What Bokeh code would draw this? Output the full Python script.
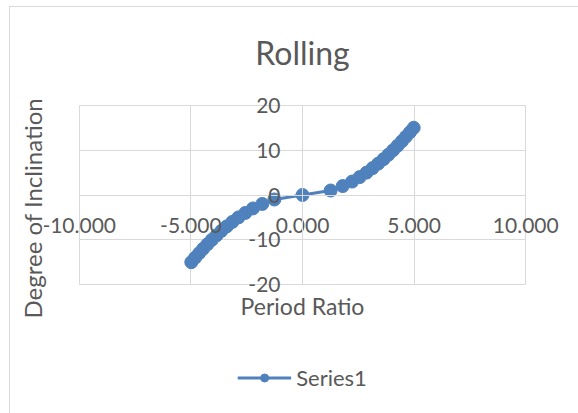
from bokeh.plotting import figure
from bokeh.layouts import column
from bokeh.models import NumeralTickFormatter, Title, Legend, LegendItem
from bokeh.embed import file_html
from bokeh.resources import INLINE

# Period ratio against degree of inclination (rolling)
period_ratio = [-4.98, -4.81, -4.63, -4.45, -4.26, -4.06, -3.85, -3.63, -3.39, -3.14,
                -2.87, -2.56, -2.22, -1.80, -1.26, 0.0, 1.26, 1.80, 2.22, 2.56,
                2.87, 3.14, 3.39, 3.63, 3.85, 4.06, 4.26, 4.45, 4.63, 4.81, 4.98]
inclination = [-15, -14, -13, -12, -11, -10, -9, -8, -7, -6, -5, -4, -3, -2, -1, 0,
               1, 2, 3, 4, 5, 6, 7, 8, 9, 10, 11, 12, 13, 14, 15]
x_ticks = [-10, -5, 0, 5, 10]
y_ticks = [-20, -10, 0, 10, 20]
x_bounds = (-10, 10)
y_bounds = (-20, 20)
series_name = "Series1"

FONT = "Lato"
TEXT = "#595959"
GRID = "#d9d9d9"
BLUE = "#4F81BD"

# the frame is a little larger than the gridded area so the crossing
# axes have room for their outermost tick labels
p = figure(width=569, height=330,
           x_range=(-11.6, 11.6), y_range=(-21.76, 22.43),
           toolbar_location=None, output_backend="svg",
           min_border_left=33, min_border_right=18,
           min_border_top=87, min_border_bottom=45)

p.title = Title(text="Rolling", align="center", text_font=FONT, text_font_size="32px",
                text_font_style="normal", text_color=TEXT, standoff=46)
p.add_layout(Title(text="Period Ratio", align="center", text_font=FONT,
                   text_font_size="23px", text_font_style="normal",
                   text_color=TEXT, standoff=-5), "below")
p.add_layout(Title(text="Degree of Inclination", align="left", text_font=FONT,
                   text_font_size="24px", text_font_style="normal",
                   text_color=TEXT, standoff=-6, offset=-26), "left")

p.outline_line_color = None
p.grid.grid_line_color = GRID
p.grid.grid_line_width = 1
p.xgrid.ticker = x_ticks
p.ygrid.ticker = y_ticks
p.xgrid.cross_bounds = y_bounds
p.ygrid.cross_bounds = x_bounds

# axes cross at the origin
p.xaxis.fixed_location = 0
p.yaxis.fixed_location = 0
p.xaxis.bounds = x_bounds
p.yaxis.bounds = y_bounds
p.xaxis.ticker = x_ticks
p.yaxis.ticker = y_ticks
p.xaxis.formatter = NumeralTickFormatter(format="0.000")
p.yaxis.formatter = NumeralTickFormatter(format="0")
for ax in (p.xaxis, p.yaxis):
    ax.axis_line_color = GRID
    ax.major_tick_line_color = None
    ax.minor_tick_line_color = None
    ax.major_tick_in = 0
    ax.major_tick_out = 0
    ax.major_label_text_font = FONT
    ax.major_label_text_font_size = "21px"
    ax.major_label_text_color = TEXT
p.xaxis.major_label_standoff = 23
p.yaxis.major_label_standoff = 22
p.yaxis.major_label_text_align = "right"
p.yaxis.major_label_text_baseline = "middle"

p.line(period_ratio, inclination, line_color=BLUE, line_width=3)
p.scatter(period_ratio, inclination, size=13, fill_color=BLUE, line_color=BLUE)

# legend strip under the chart; its ranges keep the series out of view so
# only the legend key is seen
leg = figure(width=569, height=76, x_range=(100, 101), y_range=(100, 101),
             x_axis_location=None, y_axis_location=None,
             toolbar_location=None, output_backend="svg",
             min_border_left=33, min_border_right=18, min_border_top=4, min_border_bottom=0)
leg.grid.visible = False
leg.outline_line_color = None
key_line = leg.line(period_ratio, inclination, line_color=BLUE, line_width=3)
key_pts = leg.scatter(period_ratio, inclination, size=13, fill_color=BLUE, line_color=BLUE)
legend = Legend(items=[LegendItem(label=series_name, renderers=[key_line, key_pts])],
                location="center", orientation="horizontal",
                border_line_color=None, background_fill_alpha=0,
                padding=0, margin=0, glyph_width=54, glyph_height=20,
                label_standoff=5, label_text_font=FONT, label_text_font_size="22px",
                label_text_color=TEXT)
leg.add_layout(legend)

chart = column(p, leg, spacing=0, margin=(6, 0, 0, 9))
chart.styles = {"border-left": "1px solid #d9d9d9", "border-top": "1px solid #d9d9d9"}

open("out.html", "w").write(file_html(chart, INLINE))
